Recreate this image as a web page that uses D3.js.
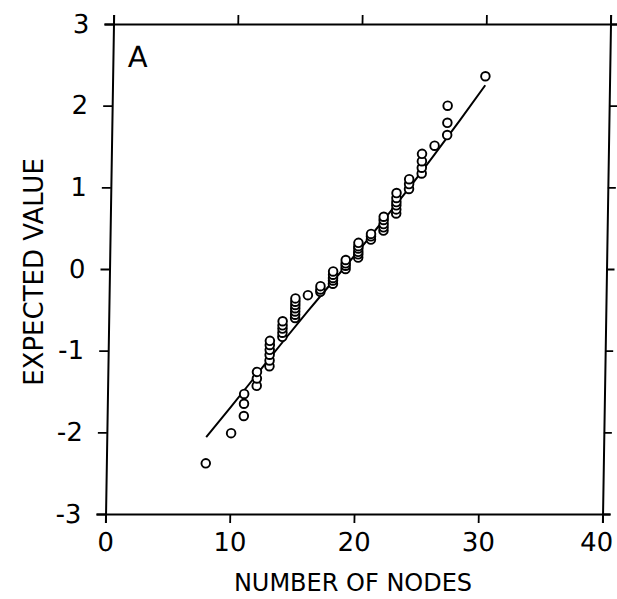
<!DOCTYPE html>
<html>
<head>
<meta charset="utf-8">
<script src="https://cdn.jsdelivr.net/npm/d3@7"></script>
<style>
  body { margin: 0; background: #fff; }
  text { font-family: "DejaVu Sans", "Liberation Sans", sans-serif; fill: #000; }
</style>
</head>
<body>
<div id="chart"></div>
<script>
// normal probability plot, panel A
var width = 617,
    height = 599;

// number of nodes for each observation and its expected normal value
var nodes = [8, 10, 11, 11, 11, 12, 12, 12,
  13, 13, 13, 13, 13, 13, 14, 14, 14, 14, 14,
  15, 15, 15, 15, 15, 15, 15, 16, 17, 17, 17,
  18, 18, 18, 18, 18, 19, 19, 19, 19,
  20, 20, 20, 20, 20, 20, 21, 21, 21,
  22, 22, 22, 22, 22, 23, 23, 23, 23, 23, 23,
  24, 24, 24, 25, 25, 25, 25, 26, 27, 27, 27, 30];
var expected = [-2.38, -2.01, -1.80, -1.65, -1.53, -1.43, -1.34, -1.26,
  -1.19, -1.12, -1.05, -0.99, -0.93, -0.88, -0.83, -0.78, -0.73, -0.69, -0.64,
  -0.60, -0.56, -0.52, -0.48, -0.44, -0.40, -0.36, -0.32, -0.28, -0.25, -0.21,
  -0.18, -0.14, -0.11, -0.07, -0.03, 0.00, 0.04, 0.07, 0.11,
  0.14, 0.18, 0.21, 0.25, 0.28, 0.32, 0.36, 0.40, 0.43,
  0.47, 0.51, 0.55, 0.60, 0.64, 0.68, 0.73, 0.78, 0.82, 0.87, 0.93,
  0.98, 1.04, 1.10, 1.17, 1.24, 1.32, 1.41, 1.51, 1.64, 1.79, 2.00, 2.36];

// fitted line
var fitNodes  = [8, 10, 12, 14, 16, 18, 20, 22, 24, 26, 28, 30];
var fitValues = [-2.06, -1.68, -1.29, -0.90, -0.52, -0.15, 0.22, 0.60, 0.99, 1.40, 1.82, 2.25];

var xTicks = [0, 10, 20, 30, 40];
var yTicks = [-3, -2, -1, 0, 1, 2, 3];

var margin = { top: 24, left: 113.5 };
var plotW = 497, plotH = 490;

var svg = d3.select("#chart").append("svg")
    .attr("width", width)
    .attr("height", height);

// the scan is slightly sheared, top sits a bit right of bottom
var g = svg.append("g")
    .attr("transform", "translate(" + margin.left + "," + margin.top + ") skewX(-0.93)");

var x = d3.scaleLinear().domain([0, 40]).range([0, plotW]);
var y = d3.scaleLinear().domain([-3, 3]).range([plotH, 0]);

var fmt = function(d) { return String(d); };

var xAxis = g.append("g")
    .attr("transform", "translate(0," + plotH + ")")
    .call(d3.axisBottom(x).tickValues(xTicks).tickFormat(fmt).tickSize(9).tickPadding(10));
var yAxis = g.append("g")
    .call(d3.axisLeft(y).tickValues(yTicks).tickFormat(fmt).tickSize(9).tickPadding(15));
var topAxis = g.append("g")
    .call(d3.axisTop(x).tickValues(xTicks).tickFormat("").tickSize(9));
var rightAxis = g.append("g")
    .attr("transform", "translate(" + plotW + ",0)")
    .call(d3.axisRight(y).tickValues(yTicks).tickFormat("").tickSize(8));

[xAxis, yAxis, topAxis, rightAxis].forEach(function(a) {
  a.select(".domain").attr("stroke", "#000").attr("stroke-width", 2);
  a.selectAll(".tick line").attr("stroke", "#000").attr("stroke-width", 1.8);
  a.selectAll(".tick text").style("font-size", "26px");
});

// last label sits against the page edge, pull it in a little
xAxis.selectAll(".tick text")
    .filter(function(d) { return d === 40; })
    .attr("dx", -6);

// fitted curve
var line = d3.line()
    .x(function(d, i) { return x(fitNodes[i]); })
    .y(function(d) { return y(d); })
    .curve(d3.curveMonotoneX);

g.append("path")
    .datum(fitValues)
    .attr("d", line)
    .attr("fill", "none")
    .attr("stroke", "#000")
    .attr("stroke-width", 2);

g.selectAll("circle.obs")
    .data(expected)
    .enter()
    .append("circle")
    .attr("class", "obs")
    .attr("cx", function(d, i) { return x(nodes[i]); })
    .attr("cy", function(d) { return y(d); })
    .attr("r", 4.3)
    .attr("fill", "#fff")
    .attr("stroke", "#000")
    .attr("stroke-width", 1.9);

g.append("text")
    .attr("x", 15)
    .attr("y", 43)
    .style("font-size", "29px")
    .text("A");

svg.append("text")
    .attr("x", 353)
    .attr("y", 591)
    .attr("text-anchor", "middle")
    .style("font-size", "24px")
    .text("NUMBER OF NODES");

svg.append("text")
    .attr("transform", "translate(43,272) rotate(-90)")
    .attr("text-anchor", "middle")
    .style("font-size", "26px")
    .text("EXPECTED VALUE");
</script>
</body>
</html>
